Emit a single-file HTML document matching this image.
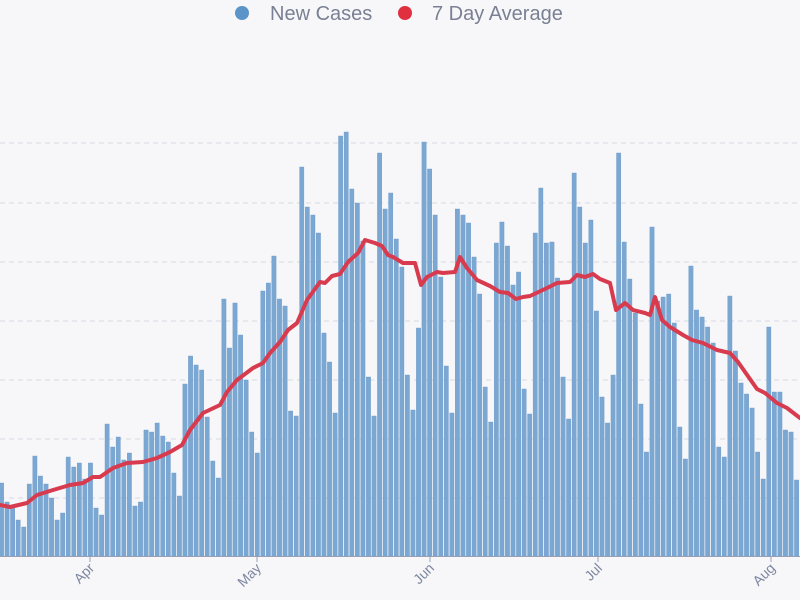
<!DOCTYPE html>
<html><head><meta charset="utf-8"><style>
html,body{margin:0;padding:0;background:#f7f7f9;}
svg{display:block;font-family:"Liberation Sans",sans-serif;}
</style></head><body>
<svg id="c" width="800" height="600" viewBox="0 0 800 600" xmlns="http://www.w3.org/2000/svg">
<rect width="800" height="600" fill="#f7f7f9"/>
<g stroke="#d6d8e4" stroke-width="1" stroke-dasharray="5,4">
<line x1="0" x2="800" y1="143" y2="143"/><line x1="0" x2="800" y1="203" y2="203"/>
<line x1="0" x2="800" y1="262" y2="262"/><line x1="0" x2="800" y1="321" y2="321"/>
<line x1="0" x2="800" y1="380" y2="380"/><line x1="0" x2="800" y1="439" y2="439"/>
<line x1="0" x2="800" y1="498" y2="498"/>
</g>
<g id="bars" fill="#7ba7d3" stroke="#6f9cca" stroke-width="0.4"></g>
<polyline id="avg" fill="none" stroke="#d83a4e" stroke-width="4" stroke-linejoin="round" stroke-linecap="round"/>
<line x1="0" x2="800" y1="556.5" y2="556.5" stroke="#9aa0b4" stroke-width="1"/>
<g stroke="#9aa0b4" stroke-width="1">
<line x1="90" x2="90" y1="556" y2="562"/><line x1="257" x2="257" y1="556" y2="562"/>
<line x1="430" x2="430" y1="556" y2="562"/><line x1="598" x2="598" y1="556" y2="562"/>
<line x1="771" x2="771" y1="556" y2="562"/>
</g>
<g fill="#7d86a0" font-size="14" text-anchor="end">
<text transform="translate(95,569) rotate(-45)">Apr</text>
<text transform="translate(262,569) rotate(-45)">May</text>
<text transform="translate(435,569) rotate(-45)">Jun</text>
<text transform="translate(603,569) rotate(-45)">Jul</text>
<text transform="translate(776,569) rotate(-45)">Aug</text>
</g>
<circle cx="242" cy="13" r="7" fill="#5a94c8"/>
<text x="270" y="20" font-size="20" fill="#7a8094">New Cases</text>
<circle cx="405" cy="13" r="7" fill="#e0303f"/>
<text x="432" y="20" font-size="20" fill="#7a8094">7 Day Average</text>
</svg>
<script>
var tops=[483,502,507,520,527,484,456,476,484,498,520,513,457,467,463,479,463,508,515,424,447,437,460,453,506,502,430,432,423,436,442,473,496,384,356,365,370,417,461,478,299,348,303,335,380,432,453,291,283,
256,299,306,411,416,167,207,215,233,333,362,413,136,132,189,203,241,377,416,153,209,193,239,267,375,410,328,142,169,215,277,366,413,209,215,223,257,294,387,422,243,222,246,285,272,389,414,
233,188,243,242,278,377,419,173,207,243,220,311,397,423,375,153,242,279,313,404,452,227,301,297,294,323,427,459,266,310,317,327,343,447,457,296,351,383,394,408,452,479,327,392,392,430,432,480];
var g=document.getElementById('bars'),s='';
for(var i=0;i<tops.length;i++){var x=1.5+i*5.56-2.15;s+='<rect x="'+x.toFixed(2)+'" y="'+tops[i]+'" width="4.3" height="'+(556-tops[i])+'"/>';}
g.innerHTML=s;
var pts=[[0,505],[10,507],[27,503],[37,495],[53,490],[70,485],[83,483],[93,477],[100,477],[113,468],[127,463],[143,462],[157,458],[170,452],[182,445],[190,430],[203,413],[220,405],[227,392],[237,380],[253,368],[263,363],[270,353],[280,342],[288,330],[297,323],[307,300],[320,282],[325,283],[332,276],[340,274],[348,262],[358,253],[365,240],[375,243],[382,246],[388,255],[393,257],[403,263],[415,263],[421,285],[427,277],[437,272],[443,273],[455,272],[460,257],[467,268],[477,280],[490,286],[500,292],[508,293],[516,299],[523,297],[530,296],[547,288],[557,283],[570,282],[577,275],[585,277],[593,274],[600,279],[610,283],[616,310],[625,303],[633,310],[645,313],[650,315],[655,297],[662,320],[670,327],[683,335],[692,340],[703,343],[717,350],[730,353],[738,362],[757,389],[765,393],[777,403],[787,408],[800,418]];
document.getElementById('avg').setAttribute('points',pts.map(function(p){return p.join(',')}).join(' '));
</script>
</body></html>
